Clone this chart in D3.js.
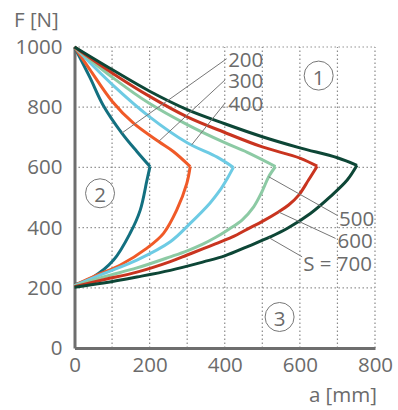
<!DOCTYPE html>
<html>
<head>
<meta charset="utf-8">
<script src="https://cdn.jsdelivr.net/npm/d3@7"></script>
<style>
  body { margin: 0; background: #fff; }
  svg { font-family: "Open Sans", sans-serif; }
  .axis text { fill: #6b6b6b; font-size: 20.5px; }
  .axis .domain { stroke: #6e6e6e; stroke-width: 3; }
  .grid line { stroke: #8a8a8a; stroke-width: 1.2; stroke-dasharray: 1.4,2.6; }
  .lbl { fill: #6b6b6b; font-size: 20.5px; }
  .leader { stroke: #777; stroke-width: 1; fill: none; }
</style>
</head>
<body>
<svg width="398" height="410"></svg>
<script>
const margin = {top: 47, right: 23, bottom: 62, left: 74.5},
      width = 375 - 74.5,
      height = 348 - 47;

// stroke lengths S [mm]
const sValues = [200, 300, 400, 500, 600, 700];
const colors = ["#137080", "#f05a28", "#6dcbe4", "#8ccaa4", "#c9341f", "#0d4636"];

// upper branch: from (0, 1000) down to the corner at F = 600  [a mm, F N]
const upper200 = [[0,1000],[41,899],[77,805],[126,714],[166,653],[201,603]];
const upper300 = [[0,1000],[41,925],[100,820],[157,747],[224,686],[263,653],[308,603]];
const upper400 = [[0,1000],[100,876],[200,768],[300,682],[380,634],[423,600]];
const upper500 = [[0,1000],[100,900],[200,812],[300,742],[400,682],[460,650],[535,603]];
const upper600 = [[0,1000],[100,914],[200,836],[300,768],[400,716],[500,668],[600,631],[646,604]];
const upper700 = [[0,1000],[100,925],[200,853],[300,792],[400,745],[500,702],[600,665],[700,632],[752,607]];

// lower branch: from the corner back to (0, ~200)
const lower200 = [[201,603],[193,558],[175,458],[148,381],[104,292],[50,236],[0,210]];
const lower300 = [[308,603],[299,547],[272,458],[237,381],[192,331],[121,275],[59,242],[0,208]];
const lower400 = [[423,600],[408,566],[385,520],[361,482],[308,414],[255,353],[166,292],[77,247],[0,207]];
const lower500 = [[535,603],[517,569],[499,519],[477,469],[446,425],[410,394],[375,367],[343,346],[300,323],[255,303],[166,266],[77,236],[0,205]];
const lower600 = [[646,604],[623,558],[597,508],[570,475],[543,452],[499,420],[468,400],[419,368],[375,346],[343,330],[300,309],[255,287],[166,252],[77,227],[0,204]];
const lower700 = [[752,607],[726,558],[681,503],[628,447],[566,397],[521,369],[459,336],[400,306],[343,286],[255,258],[166,236],[77,216],[0,202]];

const uppers = [upper200, upper300, upper400, upper500, upper600, upper700];
const lowers = [lower200, lower300, lower400, lower500, lower600, lower700];

// tick labels
const xTicks = [0, 200, 400, 600, 800];
const yTicks = [0, 200, 400, 600, 800, 1000];

// curve labels: text, point on curve, leader end, text anchor point
const labelTexts = ["200", "300", "400", "500", "600", "S = 700"];
const labelCurvePts = [[126,714],[224,686],[312,675],[517,569],[543,452],[517,367]];
const labelEndPts = [[405,961],[401,891],[401,814],[699,441],[695,364],[606,303]];
const labelTextPts = [[409,961],[409,890],[409,815],[704,433],[700,358],[609,283]];

// circled region numbers
const regionTexts = ["1", "2", "3"];
const regionPts = [[650,905],[68,514],[546,103]];

const svg = d3.select("svg");
const chart = svg.append("g")
                 .attr("transform", "translate(" + margin.left + "," + margin.top + ")");

const x = d3.scaleLinear().domain([0, 800]).range([0, width]);
const y = d3.scaleLinear().domain([0, 1000]).range([height, 0]);

// dotted grid
chart.append("g")
  .attr("class", "grid")
  .selectAll("line")
  .data(d3.range(100, 801, 100))
  .enter().append("line")
    .attr("x1", d => x(d)).attr("x2", d => x(d))
    .attr("y1", y(0)).attr("y2", y(1000));

chart.append("g")
  .attr("class", "grid")
  .selectAll("line")
  .data(d3.range(200, 1001, 200))
  .enter().append("line")
    .attr("x1", x(0)).attr("x2", x(800))
    .attr("y1", d => y(d)).attr("y2", d => y(d));

// axes
chart.append("g")
  .attr("class", "axis")
  .attr("transform", "translate(0," + height + ")")
  .call(d3.axisBottom(x).tickValues(xTicks).tickFormat(d3.format("d")).tickSize(0).tickPadding(9))
  .call(g => g.selectAll(".tick text").attr("dy", "0.71em"));

chart.append("g")
  .attr("class", "axis")
  .call(d3.axisLeft(y).tickValues(yTicks).tickFormat(d3.format("d")).tickSize(0).tickPadding(12));

chart.selectAll(".axis").attr("font-family", null).attr("font-size", null);

// axis titles
svg.append("text").attr("class", "lbl")
   .attr("x", 14).attr("y", 19).attr("dominant-baseline", "central")
   .text("F [N]");
svg.append("text").attr("class", "lbl")
   .attr("x", 377).attr("y", 394).attr("text-anchor", "end").attr("dominant-baseline", "central")
   .text("a [mm]");

// curves
const line = d3.line()
               .x(d => x(d[0]))
               .y(d => y(d[1]))
               .curve(d3.curveCatmullRom.alpha(0.5));

sValues.forEach((s, i) => {
  const g = chart.append("g").attr("class", "s" + s);
  [uppers[i], lowers[i]].forEach(pts => {
    g.append("path")
      .attr("d", line(pts))
      .attr("fill", "none")
      .attr("stroke", colors[i])
      .attr("stroke-width", 3)
      .attr("stroke-linejoin", "round");
  });
});

// leader lines + labels
labelTexts.forEach((t, i) => {
  chart.append("line").attr("class", "leader")
    .attr("x1", x(labelCurvePts[i][0])).attr("y1", y(labelCurvePts[i][1]))
    .attr("x2", x(labelEndPts[i][0])).attr("y2", y(labelEndPts[i][1]));
  chart.append("text").attr("class", "lbl")
    .attr("x", x(labelTextPts[i][0])).attr("y", y(labelTextPts[i][1]))
    .attr("dominant-baseline", "central")
    .text(t);
});

// circled numbers
regionTexts.forEach((t, i) => {
  const cx = x(regionPts[i][0]), cy = y(regionPts[i][1]);
  chart.append("circle")
    .attr("cx", cx).attr("cy", cy).attr("r", 14.5)
    .attr("fill", "#fff").attr("stroke", "#777").attr("stroke-width", 1);
  chart.append("text").attr("class", "lbl")
    .attr("x", cx).attr("y", cy + 1)
    .attr("text-anchor", "middle").attr("dominant-baseline", "central")
    .text(t);
});
</script>
</body>
</html>
